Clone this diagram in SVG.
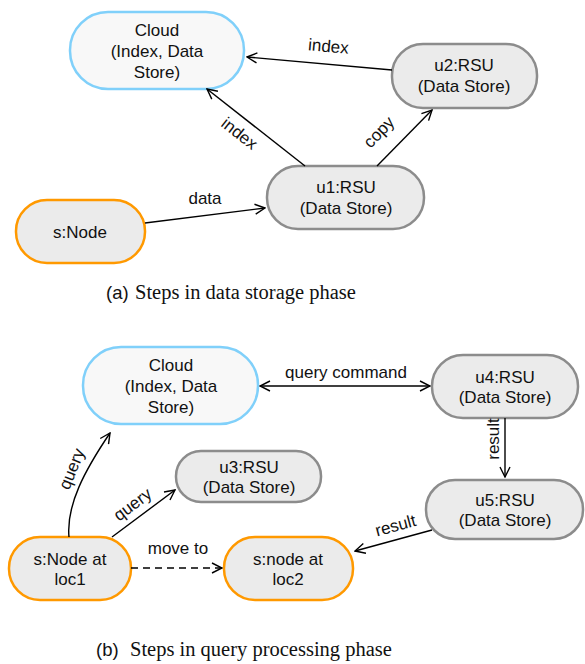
<svg xmlns="http://www.w3.org/2000/svg" width="585" height="664" viewBox="0 0 585 664">
<defs>
<marker id="arr" markerWidth="12" markerHeight="12" refX="11" refY="6" orient="auto-start-reverse" markerUnits="userSpaceOnUse">
<path d="M1,1 L11,6 L1,11" fill="none" stroke="#000" stroke-width="1.4"/>
</marker>
</defs>
<style>
text{font-family:"Liberation Sans",Arial,sans-serif;font-size:17px;fill:#111;text-anchor:middle}
.cloud{fill:#f8f8f8;stroke:#80d0fa;stroke-width:2.5}
.rsu{fill:#ebebeb;stroke:#8c8c8c;stroke-width:2.5}
.node{fill:#ebebeb;stroke:#ff9900;stroke-width:2.5}
.e{fill:none;stroke:#000;stroke-width:1.4}
.cap{font-family:"Liberation Serif","Times New Roman",serif;font-size:20.5px;text-anchor:start}
.capl{font-size:18.5px;text-anchor:start}
</style>
<g id="top-cloud"><rect class="cloud" x="70" y="12" width="174" height="77" rx="38"/><text x="157" y="36">Cloud</text><text x="157" y="57">(Index, Data</text><text x="157" y="78">Store)</text></g>
<g id="u2"><rect class="rsu" x="392" y="44" width="145" height="64" rx="31"/><text x="464" y="71">u2:RSU</text><text x="464" y="92">(Data Store)</text></g>
<g id="u1"><rect class="rsu" x="267" y="166" width="157" height="63" rx="31"/><text x="346" y="193">u1:RSU</text><text x="346" y="214">(Data Store)</text></g>
<g id="snode"><rect class="node" x="16" y="200" width="129" height="63" rx="31"/><text x="80" y="238">s:Node</text></g>
<g id="bot-cloud"><rect class="cloud" x="83" y="347" width="175" height="77" rx="38"/><text x="171" y="371">Cloud</text><text x="171" y="392">(Index, Data</text><text x="171" y="413">Store)</text></g>
<g id="u3"><rect class="rsu" x="176" y="451" width="145" height="51" rx="25"/><text x="249" y="473">u3:RSU</text><text x="249" y="493">(Data Store)</text></g>
<g id="u4"><rect class="rsu" x="432" y="355" width="146" height="63" rx="31"/><text x="505" y="383">u4:RSU</text><text x="505" y="403">(Data Store)</text></g>
<g id="u5"><rect class="rsu" x="426" y="480" width="157" height="59" rx="29"/><text x="505" y="506">u5:RSU</text><text x="505" y="526">(Data Store)</text></g>
<g id="loc1"><rect class="node" x="9" y="537" width="122" height="63" rx="31"/><text x="70" y="565">s:Node at</text><text x="70" y="585">loc1</text></g>
<g id="loc2"><rect class="node" x="224" y="537" width="129" height="63" rx="31"/><text x="288" y="565">s:node at</text><text x="288" y="585">loc2</text></g>
<g id="connectors">
<line class="e" x1="392" y1="70" x2="247" y2="57" marker-end="url(#arr)"/>
<text transform="translate(328,52) rotate(5)">index</text>
<line class="e" x1="305" y1="166" x2="207" y2="89" marker-end="url(#arr)"/>
<text transform="translate(236,138) rotate(38)">index</text>
<line class="e" x1="377" y1="166" x2="432" y2="110" marker-end="url(#arr)"/>
<text transform="translate(383,136) rotate(-46)">copy</text>
<line class="e" x1="145" y1="223" x2="265" y2="208" marker-end="url(#arr)"/>
<text x="205" y="204">data</text>
<line class="e" x1="260" y1="386" x2="430" y2="386" marker-start="url(#arr)" marker-end="url(#arr)"/>
<text x="346" y="378">query command</text>
<line class="e" x1="505" y1="418" x2="505" y2="477" marker-end="url(#arr)"/>
<text transform="translate(499,439) rotate(-90)">result</text>
<line class="e" x1="432" y1="530" x2="355" y2="551" marker-end="url(#arr)"/>
<text transform="translate(397,531) rotate(-15)">result</text>
<line class="e" x1="131" y1="568" x2="222" y2="568" stroke-dasharray="7,5" marker-end="url(#arr)"/>
<text x="178" y="554">move to</text>
<line class="e" x1="112" y1="537" x2="175" y2="490" marker-end="url(#arr)"/>
<text transform="translate(136,509) rotate(-37)">query</text>
<path class="e" d="M69,537 C66,505 85,470 110,433" marker-end="url(#arr)"/>
<text transform="translate(77,471) rotate(-68)">query</text>
</g>
<text class="capl" x="106" y="299">(a)</text><text class="cap" x="135" y="299">Steps in data storage phase</text>
<text class="capl" x="96" y="656">(b)</text><text class="cap" x="130" y="656">Steps in query processing phase</text>
</svg>
